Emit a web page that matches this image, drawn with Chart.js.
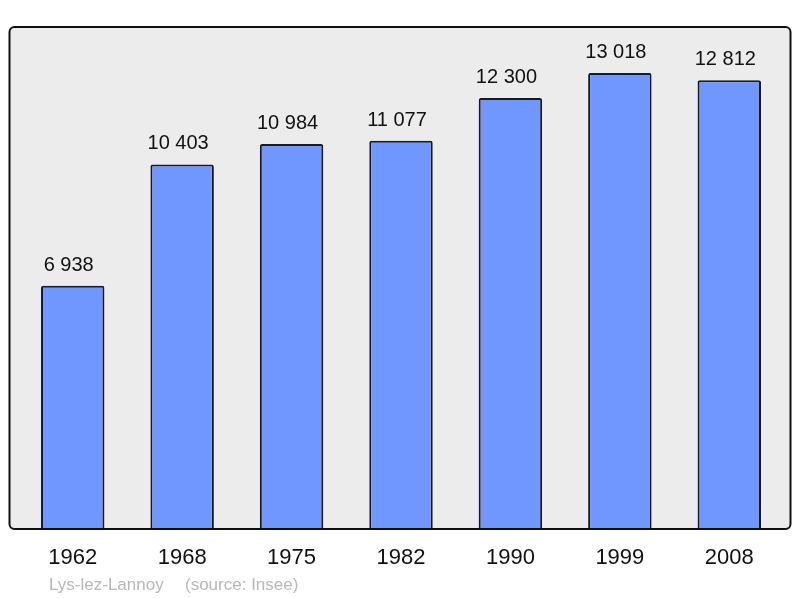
<!DOCTYPE html>
<html>
<head>
<meta charset="utf-8">
<script src="https://cdn.jsdelivr.net/npm/chart.js@4"></script>
<style>
  html, body { margin: 0; padding: 0; background: #ffffff; }
  #wrap { width: 800px; height: 598px; }
</style>
</head>
<body>
<div id="wrap"><canvas id="popChart"></canvas></div>
<script>
// Population data (Insee)
const years = ['1962', '1968', '1975', '1982', '1990', '1999', '2008'];
const population = [6938, 10403, 10984, 11077, 12300, 13018, 12812];
const townName = 'Lys-lez-Lannoy';
const sourceText = '(source: Insee)';

const FONT = '"Liberation Sans", Arial, sans-serif';

function formatNumber(n) {
    return String(n).replace(/\B(?=(\d{3})+(?!\d))/g, ' ');
}

// grey panel with dark rounded border behind the bars
const framePlugin = {
    id: 'frame',
    beforeDraw(chart) {
        const ctx = chart.ctx;
        ctx.save();
        ctx.beginPath();
        ctx.roundRect(9.5, 27, 781, 502, 5);
        ctx.fillStyle = '#ececec';
        ctx.fill();
        ctx.restore();
    },
    afterDatasetsDraw(chart) {
        const ctx = chart.ctx;
        ctx.save();
        ctx.beginPath();
        ctx.roundRect(9.5, 27, 781, 502, 5);
        ctx.lineWidth = 2;
        ctx.strokeStyle = '#111111';
        ctx.stroke();
        ctx.restore();
    }
};

// value labels above each bar
const valueLabels = {
    id: 'valueLabels',
    afterDatasetsDraw(chart) {
        const ctx = chart.ctx;
        const meta = chart.getDatasetMeta(0);
        ctx.save();
        ctx.font = '20px ' + FONT;
        ctx.fillStyle = '#111111';
        ctx.textAlign = 'center';
        ctx.textBaseline = 'alphabetic';
        meta.data.forEach((bar, i) => {
            ctx.fillText(formatNumber(population[i]), bar.x - 4, bar.y - 15);
        });
        ctx.restore();
    }
};

// town name and source under the axis
const footerText = {
    id: 'footerText',
    afterDraw(chart) {
        const ctx = chart.ctx;
        ctx.save();
        ctx.font = '17px ' + FONT;
        ctx.fillStyle = '#b8b8b8';
        ctx.textAlign = 'left';
        ctx.textBaseline = 'alphabetic';
        ctx.fillText(townName, 49, 590);
        ctx.fillText(sourceText, 185, 590);
        ctx.restore();
    }
};

new Chart(document.getElementById('popChart').getContext('2d'), {
    type: 'bar',
    data: {
        labels: years,
        datasets: [{
            data: population,
            backgroundColor: '#7097ff',
            borderColor: '#1a1a1a',
            borderWidth: 2,
            borderSkipped: 'bottom',
            borderRadius: 2,
            barPercentage: 0.58,
            categoryPercentage: 1
        }]
    },
    options: {
        responsive: true,
        maintainAspectRatio: false,
        animation: false,
        layout: {
            padding: { left: 18, right: 16, top: 27, bottom: 11 }
        },
        scales: {
            x: {
                grid: { display: false, drawTicks: false },
                border: { display: false },
                ticks: {
                    color: '#111111',
                    padding: 16,
                    font: { family: FONT, size: 22 }
                }
            },
            y: {
                display: false,
                min: 0,
                max: 14330
            }
        },
        plugins: {
            legend: { display: false },
            tooltip: { enabled: false }
        }
    },
    plugins: [framePlugin, valueLabels, footerText]
});
</script>
</body>
</html>
